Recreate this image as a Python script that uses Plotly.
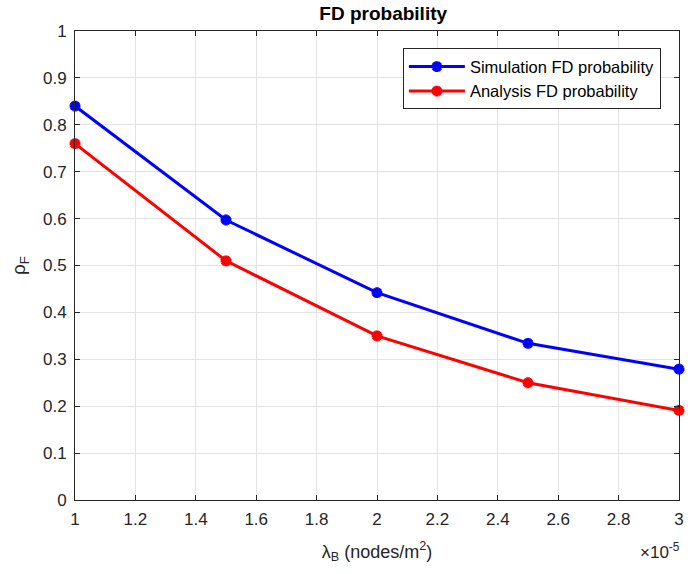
import plotly.graph_objects as go

# x values in units of 1e-5 nodes/m^2
LAMBDA_B = [1.0, 1.5, 2.0, 2.5, 3.0]
SIM_FD = [0.840, 0.597, 0.442, 0.334, 0.279]
ANA_FD = [0.760, 0.510, 0.350, 0.250, 0.191]

X_TICKS = [1, 1.2, 1.4, 1.6, 1.8, 2, 2.2, 2.4, 2.6, 2.8, 3]
Y_TICKS = [0, 0.1, 0.2, 0.3, 0.4, 0.5, 0.6, 0.7, 0.8, 0.9, 1]

FONT = "Liberation Sans, Arial, sans-serif"
AXIS_COL = "#262626"
GRID_COL = "#e3e3e3"

fig = go.Figure()
for name, ys, col in [("Simulation FD probability", SIM_FD, "#0000ff"),
                      ("Analysis FD probability", ANA_FD, "#ff0000")]:
    fig.add_trace(go.Scatter(
        x=LAMBDA_B, y=ys, name=name, mode="lines+markers",
        line=dict(color=col, width=3),
        marker=dict(symbol="asterisk-open", size=9, color=col,
                    line=dict(color=col, width=3.5)),
        cliponaxis=False,
    ))

axis_common = dict(
    showline=True, linecolor=AXIS_COL, linewidth=1, mirror="allticks",
    ticks="inside", ticklen=5, tickcolor=AXIS_COL,
    showgrid=True, gridcolor=GRID_COL, gridwidth=1, zeroline=False,
    tickfont=dict(family=FONT, size=17, color=AXIS_COL),
    ticklabeloverflow="allow",
)

fig.update_xaxes(range=[1, 3], tickvals=X_TICKS,
                 ticktext=[f"{v:g}" for v in X_TICKS],
                 ticklabelstandoff=4,
                 title=dict(text="λ<sub>B</sub> (nodes/m<sup>2</sup>)",
                            font=dict(family=FONT, size=18, color=AXIS_COL),
                            standoff=16),
                 **axis_common)
fig.update_yaxes(range=[0, 1], tickvals=Y_TICKS,
                 ticktext=[f"{v:g}" for v in Y_TICKS],
                 ticklabelstandoff=4,
                 title=dict(text="ρ<sub>F</sub>",
                            font=dict(family=FONT, size=19, color=AXIS_COL),
                            standoff=12),
                 **axis_common)

fig.add_annotation(x=1, y=0, xref="paper", yref="paper", xanchor="right",
                   yanchor="top", yshift=-38, xshift=3, showarrow=False,
                   text="×10<sup>-5</sup>",
                   font=dict(family=FONT, size=17, color=AXIS_COL))

fig.update_layout(
    width=688, height=574,
    margin=dict(l=75, r=4, t=31, b=74),
    paper_bgcolor="white", plot_bgcolor="white",
    title=dict(text="<b>FD probability</b>", x=0.557, xanchor="center",
               y=0.977, yanchor="middle",
               font=dict(family=FONT, size=19, color="black")),
    legend=dict(x=0.97, y=0.963, xanchor="right", yanchor="top",
                bgcolor="white", bordercolor=AXIS_COL, borderwidth=1,
                font=dict(family=FONT, size=16.5, color="black"),
                itemwidth=56, tracegroupgap=0),
    showlegend=True,
)

fig.write_html("out.html", config={"displayModeBar": False},
               post_script="document.body.style.margin='0px';"
                           "document.body.style.overflow='hidden';")
